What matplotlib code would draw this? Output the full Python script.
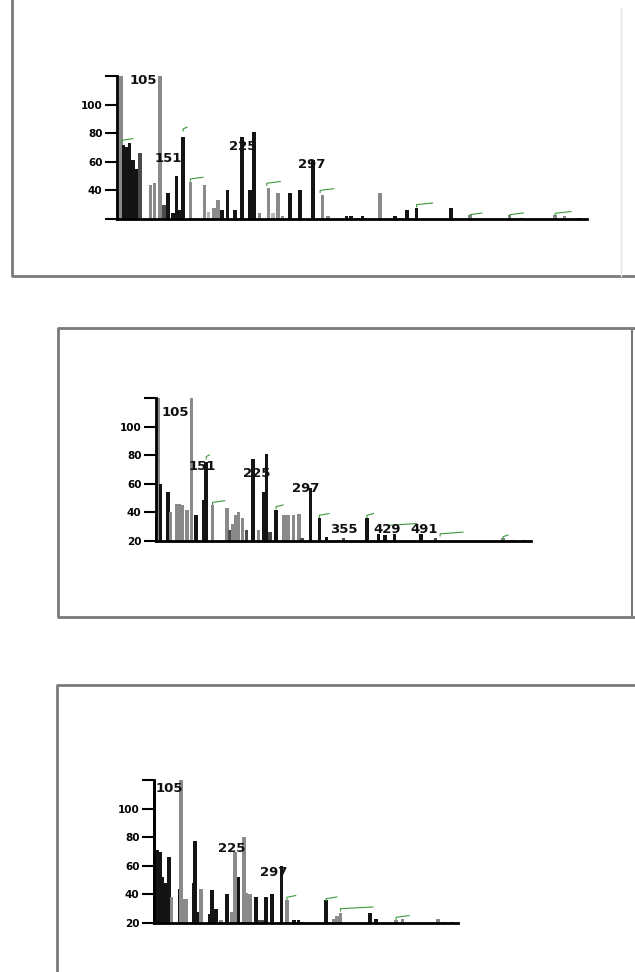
import numpy as np
import matplotlib.pyplot as plt

# tamaño final en pixeles
W, H = 635, 972

# ---- Panel 1 ----
mz1 = [51, 55, 58, 62, 66, 70, 74, 79, 92, 97, 104, 109, 114, 120, 125, 129, 133,
       142, 160, 165, 172, 177, 182, 189, 198, 207, 217, 222, 229, 240, 246, 252,
       258, 267, 280, 296, 308, 315, 338, 344, 352, 358, 380, 399, 414, 426, 469,
       493, 543, 558, 600, 612, 630]
int1 = [38, 120, 72, 70, 73, 61, 55, 66, 44, 45, 120, 30, 38, 24, 50, 26, 77,
        46, 44, 25, 28, 33, 26, 40, 26, 77, 40, 81, 24, 42, 24, 38,
        22, 38, 40, 61, 37, 22, 22, 22, 21, 22, 38, 22, 26, 28, 28,
        23, 23, 21, 23, 22, 21]
tono1 = ['g', 'g', 'k', 'k', 'k', 'k', 'k', 'd', 'g', 'g', 'g', 'd', 'k', 'k', 'k', 'k', 'k',
         'g', 'g', 'l', 'g', 'g', 'k', 'k', 'k', 'k', 'k', 'k', 'g', 'g', 'l', 'g',
         'g', 'k', 'k', 'k', 'g', 'g', 'k', 'k', 'k', 'k', 'g', 'k', 'k', 'k', 'k',
         'g', 'g', 'k', 'g', 'g', 'k']
verde1_x0 = [56, 133, 142, 238, 305, 426, 493, 543, 600]
verde1_x1 = [70, 138, 158, 255, 322, 446, 508, 560, 620]
verde1_y = [75, 83, 48, 45, 40, 30, 23, 23, 24]
etiq1 = ['105', '151', '225', '297']
etiq1_mz = [83, 114, 208, 295]
etiq1_y = [117, 62, 71, 58]
yticklab1 = ['', '40', '60', '80', '100', '']

# ---- Panel 2 ----
mz2 = [51, 53, 57, 69, 73, 82, 87, 92, 99, 106, 113, 125, 129, 139, 162, 166, 170,
       176, 180, 186, 192, 203, 211, 219, 224, 229, 239, 251, 258, 266, 275, 280,
       293, 307, 318, 338, 345, 350, 382, 400, 410, 425, 467, 490, 540, 553, 596,
       611, 628]
int2 = [37, 120, 60, 54, 40, 46, 46, 45, 42, 120, 38, 49, 75, 45, 43, 28, 32,
        38, 40, 36, 28, 77, 28, 54, 81, 26, 42, 38, 38, 38, 39, 22,
        57, 36, 23, 21, 22, 21, 36, 25, 24, 25, 25, 22, 21, 21, 22,
        21, 21]
tono2 = ['k', 'g', 'k', 'k', 'g', 'g', 'g', 'g', 'g', 'g', 'k', 'k', 'k', 'g', 'g', 'd', 'g',
         'g', 'g', 'g', 'd', 'k', 'g', 'k', 'k', 'd', 'k', 'g', 'g', 'g', 'g', 'd',
         'k', 'k', 'k', 'g', 'd', 'g', 'k', 'k', 'k', 'k', 'k', 'd', 'g', 'g', 'g',
         'd', 'k']
verde2_x0 = [129, 139, 239, 307, 382, 417, 497, 596]
verde2_x1 = [134, 158, 250, 322, 392, 460, 533, 604]
verde2_y = [79, 47, 44, 38, 38, 31, 25, 23]
etiq2 = ['105', '151', '225', '297', '355', '429', '491']
etiq2_mz = [80, 123, 209, 285, 346, 414, 472]
etiq2_y = [110, 72, 67, 57, 28, 28, 28]
yticklab2 = ['20', '40', '60', '80', '100', '']

# ---- Panel 3 ----
mz3 = [51, 57, 62, 66, 70, 74, 79, 84, 100, 102, 108, 113, 127, 130, 136, 141, 158,
       163, 170, 180, 192, 200, 207, 214, 225, 230, 236, 248, 256, 261, 267, 279,
       297, 308, 322, 330, 338, 384, 398, 405, 412, 469, 481, 520, 532, 601, 615,
       628]
int3 = [120, 71, 70, 52, 48, 48, 66, 38, 44, 120, 37, 37, 48, 77, 28, 44, 26,
        43, 30, 22, 40, 28, 70, 52, 80, 41, 40, 38, 22, 22, 38, 40,
        60, 36, 22, 22, 21, 36, 23, 25, 27, 27, 23, 22, 23, 23, 21,
        21]
tono3 = ['k', 'k', 'k', 'k', 'k', 'k', 'k', 'g', 'k', 'g', 'g', 'g', 'k', 'k', 'k', 'g', 'k',
         'k', 'k', 'g', 'k', 'g', 'g', 'k', 'g', 'g', 'g', 'k', 'd', 'd', 'k', 'k',
         'k', 'g', 'k', 'k', 'k', 'k', 'g', 'g', 'g', 'k', 'k', 'g', 'g', 'g', 'd',
         'd']
verde3_x0 = [308, 384, 412, 520]
verde3_x1 = [325, 405, 475, 545]
verde3_y = [38, 37, 30, 24]
etiq3 = ['105', '225', '297']
etiq3_mz = [79, 201, 283]
etiq3_y = [114, 72, 55]
yticklab3 = ['20', '40', '60', '80', '100', '']

colores = {'k': '#141414', 'd': '#4a4a4a', 'g': '#8a8a8a', 'l': '#b8b8b8'}
yticks = [20, 40, 60, 80, 100, 120]


def caja(x0, y0, x1, y1):
    # pixeles (origen arriba-izq) -> coordenadas de figura
    return [x0 / W, 1 - y1 / H, (x1 - x0) / W, (y1 - y0) / H]


def espectro(fig, pos, mz, inten, tono, vx0, vx1, vy, etiq, emz, ey, ylab):
    ax = fig.add_axes(caja(*pos))
    ancho = 3.5 * 590 / (pos[2] - pos[0])
    inten = np.array(inten)
    ax.bar(mz, inten - 20, bottom=20, width=ancho,
           color=[colores[t] for t in tono], clip_on=False, zorder=2)
    for a, b, y in zip(vx0, vx1, vy):
        ax.plot([a, a, b], [y - 1.5, y, y + 1.2], color='#3c9a3c', lw=0.8,
                clip_on=False, zorder=3)
    for t, x, y in zip(etiq, emz, ey):
        ax.text(x, y, t, ha='center', va='center', fontsize=9.5,
                fontweight='heavy', color='#111111', zorder=4)
    ax.set_xlim(50, 640)
    ax.set_ylim(20, 120)
    ax.set_yticks(yticks)
    ax.set_yticklabels(ylab, fontsize=7.5, fontweight='heavy')
    ax.set_xticks([])
    ax.tick_params(axis='y', direction='out', length=8.5, width=1.5, pad=2)
    for s in ['top', 'right']:
        ax.spines[s].set_visible(False)
    ax.spines['left'].set_linewidth(2)
    ax.spines['bottom'].set_linewidth(2)
    ax.patch.set_alpha(0)
    return ax


fig = plt.figure(figsize=(W / 100, H / 100), dpi=100, facecolor='white')

# marcos de cada panel
marco = fig.add_axes([0, 0, 1, 1])
marco.set_xlim(0, W)
marco.set_ylim(H, 0)
marco.axis('off')
gris = '#7a7a7a'
marco.plot([12, 12, 635], [0, 276, 276], color=gris, lw=2)
marco.plot([621, 621], [8, 276], color='#e4e4e4', lw=1)
marco.plot([635, 58, 58, 635], [328, 328, 617, 617], color=gris, lw=2)
marco.plot([632, 632], [328, 617], color=gris, lw=1.5)
marco.plot([635, 57, 57], [685, 685, 972], color=gris, lw=2)

espectro(fig, (117, 76, 587, 219), mz1, int1, tono1, verde1_x0, verde1_x1,
         verde1_y, etiq1, etiq1_mz, etiq1_y, yticklab1)
espectro(fig, (156, 398, 531, 541), mz2, int2, tono2, verde2_x0, verde2_x1,
         verde2_y, etiq2, etiq2_mz, etiq2_y, yticklab2)
espectro(fig, (154, 780, 458, 923), mz3, int3, tono3, verde3_x0, verde3_x1,
         verde3_y, etiq3, etiq3_mz, etiq3_y, yticklab3)

plt.savefig('out.png', dpi=100, facecolor='white')
